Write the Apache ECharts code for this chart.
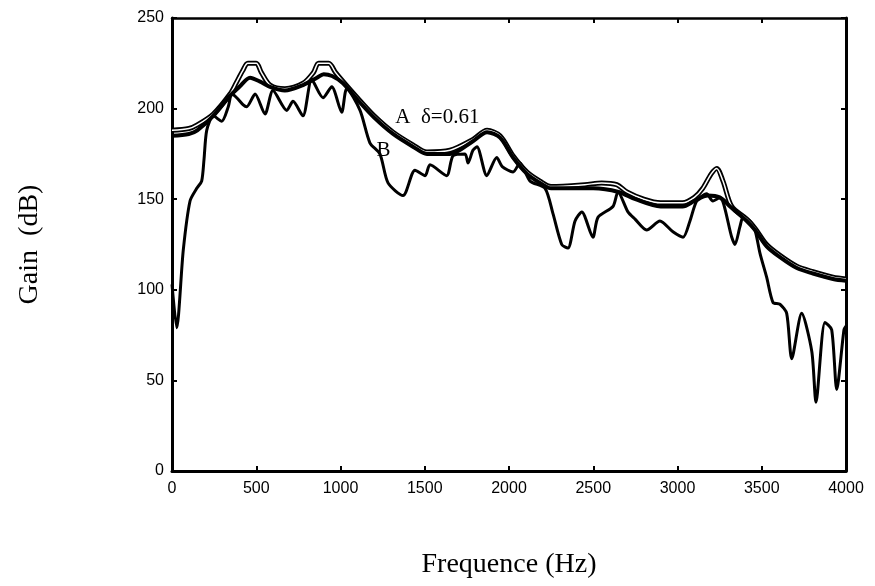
<!DOCTYPE html>
<html>
<head>
<meta charset="utf-8">
<script src="https://cdn.jsdelivr.net/npm/echarts@6/dist/echarts.min.js"></script>
<style>
html,body{margin:0;padding:0;background:#fff;}
#chart{width:875px;height:586px;}
</style>
</head>
<body>
<div id="chart"></div>
<script>
// Measured (jagged) spectrum
var measuredHz   = [0, 28, 67, 107, 147, 176, 190, 206, 245, 295, 334, 354, 384, 423, 443, 493, 552, 599, 681, 718, 777, 829, 896, 948, 1007, 1037, 1116, 1175, 1234, 1282, 1371, 1442, 1502, 1531, 1630, 1668, 1739, 1757, 1786, 1810, 1868, 1927, 1960, 2024, 2065, 2125, 2214, 2261, 2313, 2350, 2392, 2432, 2498, 2528, 2617, 2647, 2706, 2748, 2817, 2896, 2973, 3033, 3074, 3114, 3173, 3210, 3252, 3322, 3341, 3371, 3389, 3430, 3460, 3490, 3529, 3567, 3608, 3648, 3678, 3737, 3797, 3822, 3875, 3915, 3945, 3988, 4000];
var measuredGain = [103, 79, 122, 149, 156, 160, 172, 188, 196, 193, 201, 208, 206, 202, 201, 208, 197, 210, 199, 204, 196, 216, 206, 212, 198, 211, 199, 181, 175, 159, 152, 166, 163, 169, 163, 174, 175, 170, 177, 179, 163, 173, 168, 165, 170, 160, 156, 142, 125, 123, 138, 143, 129, 140, 146, 154, 143, 139, 133, 138, 132, 129, 138, 149, 153, 149, 151, 129, 125, 135, 140, 138, 133, 120, 107, 93, 92, 87, 62, 87, 66, 38, 82, 78, 45, 78, 80];

// Curve A (smooth envelope, delta = 0.61)
var curveAHz   = [0, 100, 150, 245, 344, 400, 463, 520, 582, 670, 778, 860, 900, 950, 1015, 1100, 1200, 1312, 1430, 1513, 1650, 1786, 1870, 1947, 2024, 2107, 2184, 2250, 2500, 2650, 2750, 2900, 3030, 3100, 3180, 3250, 3312, 3411, 3460, 3529, 3608, 3708, 3804, 3923, 4000];
var curveAGain = [185, 186, 188, 196, 207, 212, 217, 215, 212, 210, 213, 217, 219, 218, 214, 205, 195, 186, 179, 175, 175, 182, 187, 184, 173, 164, 159, 156, 156, 154, 150, 146, 146, 149, 152, 151, 146, 138, 133, 124, 118, 112, 109, 106, 105];

// Curve B (peak-following envelope)
var curveBHz   = [0, 100, 150, 245, 344, 380, 420, 450, 500, 530, 582, 670, 778, 840, 870, 930, 970, 1015, 1100, 1200, 1312, 1430, 1513, 1650, 1786, 1870, 1947, 2024, 2107, 2184, 2250, 2450, 2550, 2640, 2700, 2800, 2900, 3030, 3100, 3150, 3200, 3233, 3270, 3322, 3411, 3460, 3529, 3608, 3708, 3804, 3923, 4000];
var curveBGain = [188, 189, 191, 197, 208, 214, 221, 225, 225, 220, 213, 211, 214, 220, 225, 225, 220, 215, 206, 196, 187, 180, 176, 177, 183, 188, 185, 174, 165, 160, 157, 158, 159, 158, 154, 150, 148, 148, 151, 156, 164, 167, 160, 146, 139, 134, 125, 119, 113, 110, 107, 106];

// Tick values
var xTicks = [0, 500, 1000, 1500, 2000, 2500, 3000, 3500, 4000];
var yTicks = [0, 50, 100, 150, 200, 250];

// Annotations
var annText = ['A  δ=0.61', 'B'];
var annHz   = [1575, 1255];
var annGain = [195, 177];

function pairs(xs, ys) { return xs.map(function (x, i) { return [x, ys[i]]; }); }

var serif = '"Liberation Serif", "Times New Roman", serif';
var sans = '"Liberation Sans", Arial, sans-serif';

var chart = echarts.init(document.getElementById('chart'), null, {renderer: 'canvas'});

var axisLine = {show: true, onZero: false, lineStyle: {color: '#000', width: 3}};
var tickIn = {show: true, inside: true, length: 5, lineStyle: {color: '#000', width: 2}};
function plain(v) { return String(v); }

chart.setOption({
  backgroundColor: '#fff',
  animation: false,
  grid: {left: 172, right: 29, top: 18, bottom: 115},
  xAxis: [{
    type: 'value', min: xTicks[0], max: xTicks[xTicks.length - 1], interval: xTicks[1] - xTicks[0],
    position: 'bottom',
    name: 'Frequence (Hz)', nameLocation: 'middle', nameGap: 80,
    nameTextStyle: {fontFamily: serif, fontSize: 28, color: '#000'},
    axisLine: axisLine, axisTick: tickIn, splitLine: {show: false},
    axisLabel: {fontFamily: sans, fontSize: 16, color: '#000', margin: 10, formatter: plain}
  }, {
    type: 'value', min: xTicks[0], max: xTicks[xTicks.length - 1], interval: xTicks[1] - xTicks[0],
    position: 'top',
    axisLine: {show: true, onZero: false, lineStyle: {color: '#000', width: 2.5}}, axisTick: tickIn,
    axisLabel: {show: false}, splitLine: {show: false}
  }],
  yAxis: [{
    type: 'value', min: yTicks[0], max: yTicks[yTicks.length - 1], interval: yTicks[1] - yTicks[0],
    position: 'left',
    name: 'Gain  (dB)', nameLocation: 'middle', nameGap: 128, nameRotate: 90,
    nameTextStyle: {fontFamily: serif, fontSize: 28, color: '#000'},
    axisLine: axisLine, axisTick: tickIn, splitLine: {show: false},
    axisLabel: {fontFamily: sans, fontSize: 16, color: '#000', margin: 8, formatter: plain}
  }, {
    type: 'value', min: yTicks[0], max: yTicks[yTicks.length - 1], interval: yTicks[1] - yTicks[0],
    position: 'right',
    axisLine: axisLine, axisTick: tickIn,
    axisLabel: {show: false}, splitLine: {show: false}
  }],
  series: [{
    name: 'Measured', type: 'line', data: pairs(measuredHz, measuredGain),
    showSymbol: false, smooth: 0.25,
    lineStyle: {color: '#000', width: 3}, z: 2
  }, {
    name: 'B', type: 'line', data: pairs(curveBHz, curveBGain),
    showSymbol: false, smooth: 0.3,
    lineStyle: {color: '#000', width: 5}, z: 3
  }, {
    name: 'B-inner', type: 'line', data: pairs(curveBHz, curveBGain),
    showSymbol: false, smooth: 0.3,
    lineStyle: {color: '#fff', width: 1.5}, z: 4
  }, {
    name: 'A', type: 'line', data: pairs(curveAHz, curveAGain),
    showSymbol: false, smooth: 0.3,
    lineStyle: {color: '#000', width: 4}, z: 5
  }, {
    name: 'labels', type: 'scatter', symbolSize: 0, z: 6, silent: true,
    itemStyle: {opacity: 1, color: '#000'},
    data: annHz.map(function (h, i) { return {value: [h, annGain[i]], name: annText[i]}; }),
    label: {show: true, position: 'inside', formatter: function (p) { return p.name; },
            fontFamily: serif, fontSize: 21, color: '#000', opacity: 1, textBorderWidth: 0}
  }]
});
</script>
</body>
</html>
